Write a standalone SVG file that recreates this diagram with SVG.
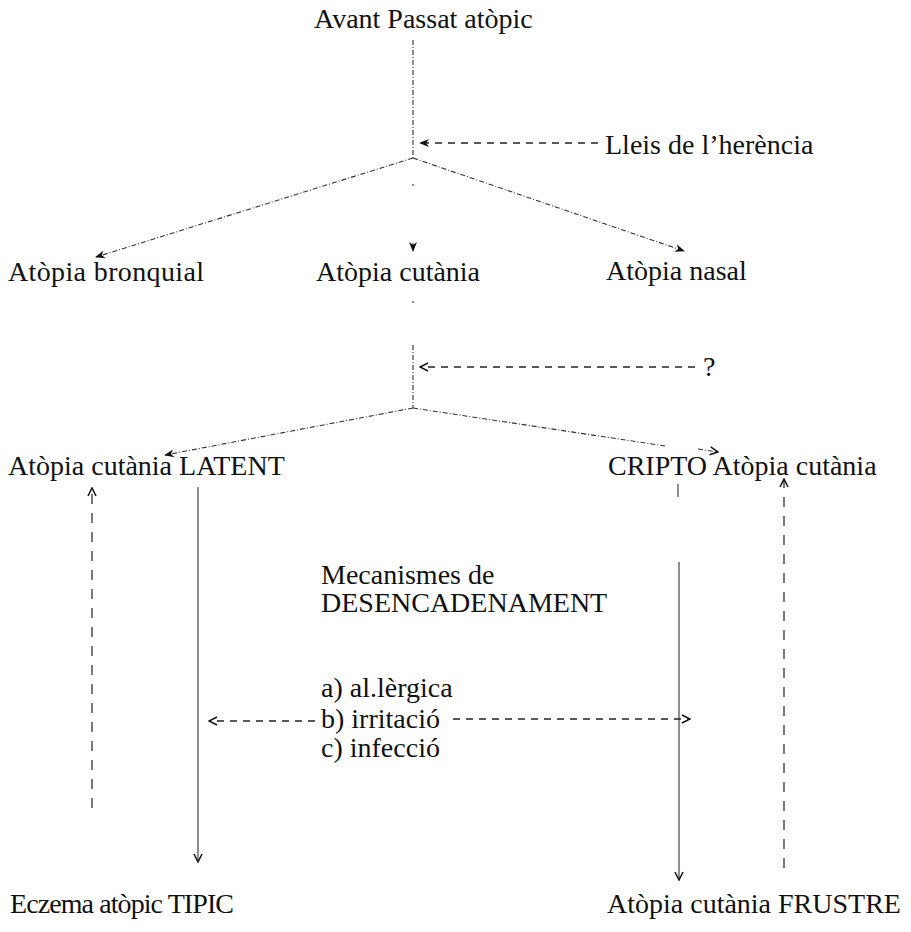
<svg xmlns="http://www.w3.org/2000/svg" width="911" height="932" viewBox="0 0 911 932">
<defs>
<style>
text{font-family:"Liberation Serif","Times New Roman",serif;font-size:28px;fill:#111}
.dot{fill:none;stroke:#333;stroke-width:1.1;stroke-dasharray:5 2 1 2}
.dash{fill:none;stroke:#222;stroke-width:1.3;stroke-dasharray:7 6}
.ldash{fill:none;stroke:#222;stroke-width:1.2;stroke-dasharray:10 9}
.solid{fill:none;stroke:#333;stroke-width:1.1}
</style>
<marker id="open" viewBox="0 0 10 10" refX="9" refY="5" markerWidth="10" markerHeight="10" markerUnits="userSpaceOnUse" orient="auto">
<path d="M1,1 L9,5 L1,9" fill="none" stroke="#111" stroke-width="1.5"/>
</marker>
<marker id="fill" viewBox="0 0 10 10" refX="9" refY="5" markerWidth="10" markerHeight="10" markerUnits="userSpaceOnUse" orient="auto">
<path d="M0,1 L10,5 L0,9 L3,5 Z" fill="#111"/>
</marker>
</defs>
<g id="connectors">
<path class="dot" d="M413,40 V158"/>
<path class="dash" d="M598,143 H420" marker-end="url(#fill)"/>
<path class="dot" d="M413,158 L96,257" marker-end="url(#fill)"/>
<path class="dot" d="M413,158 L684,251" marker-end="url(#fill)"/>
<path class="solid" d="M413,184 v2"/>
<path class="solid" d="M413,243 v8" marker-end="url(#fill)"/>
<path class="solid" d="M413,301 v2"/>
<path class="dot" d="M413,345 V408"/>
<path class="dash" d="M695,367 H420" marker-end="url(#open)"/>
<path class="dot" d="M413,408 L165,455" marker-end="url(#fill)"/>
<path class="dot" d="M413,408 L665,446"/>
<path class="dot" d="M698,449 L718,452" marker-end="url(#open)"/>
<path class="ldash" d="M92,808 V488" marker-end="url(#open)"/>
<path class="solid" d="M198,487 V862" marker-end="url(#open)"/>
<path class="solid" d="M678,484 V497"/>
<path class="solid" d="M679,562 V880" marker-end="url(#open)"/>
<path class="ldash" d="M784,868 V479" marker-end="url(#open)"/>
<path class="dash" d="M315,721 H209" marker-end="url(#open)"/>
<path class="dash" d="M453,719 H690" marker-end="url(#open)"/>
</g>
<g id="n-avant"><text x="314" y="28">Avant Passat atòpic</text></g>
<g id="n-lleis"><text x="605" y="154">Lleis de l’herència</text></g>
<g id="n-bronquial"><text x="8" y="281" textLength="196">Atòpia bronquial</text></g>
<g id="n-cutania"><text x="316" y="281">Atòpia cutània</text></g>
<g id="n-nasal"><text x="606" y="280">Atòpia nasal</text></g>
<g id="n-q"><text x="703" y="376">?</text></g>
<g id="n-latent"><text x="8" y="475">Atòpia cutània LATENT</text></g>
<g id="n-cripto"><text x="608" y="475">CRIPTO Atòpia cutània</text></g>
<g id="n-mecanismes">
<text x="321" y="584">Mecanismes de</text>
<text x="321" y="612">DESENCADENAMENT</text>
<text x="321" y="697">a) al.lèrgica</text>
<text x="321" y="728">b) irritació</text>
<text x="321" y="757">c) infecció</text>
</g>
<g id="n-tipic"><text x="10" y="913" textLength="224">Eczema atòpic TIPIC</text></g>
<g id="n-frustre"><text x="607" y="913">Atòpia cutània FRUSTRE</text></g>
</svg>
